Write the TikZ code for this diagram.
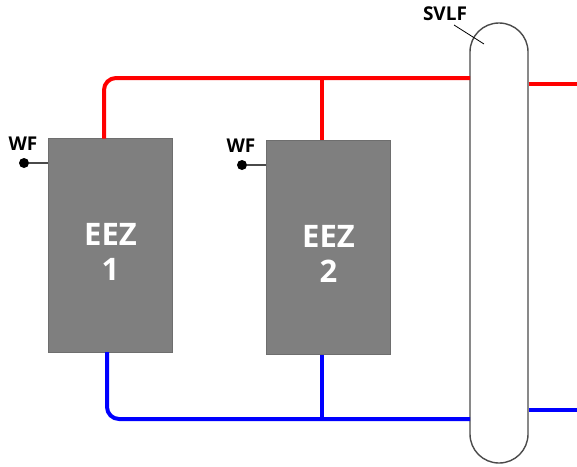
\documentclass[tikz,border=0pt]{standalone}
\usepackage{fontspec}
\setmainfont{Open Sans}
\usetikzlibrary{positioning}
\definecolor{eezgray}{HTML}{7F7F7F}
\definecolor{eezborder}{HTML}{6E6E6E}
\definecolor{pipegray}{HTML}{4A4A4A}
\definecolor{hotred}{HTML}{FF0000}
\definecolor{coldblue}{HTML}{0000FF}
\begin{document}
\begin{tikzpicture}[
      x=1pt, y=-1pt,
      eezbox/.style={draw=eezborder, line width=1pt, fill=eezgray, minimum width=124pt,
        minimum height=214pt, inner sep=0pt},
      eeztext/.style={align=center, text=white, inner sep=0pt,
        font=\fontsize{31}{35}\selectfont\bfseries},
      vessel/.style={draw=pipegray, line width=1.4pt, fill=white, minimum width=58pt,
        minimum height=440pt, inner sep=0pt, rounded corners=28.9pt},
      wfdot/.style={circle, fill=black, inner sep=0pt, minimum size=10pt},
      wftext/.style={font=\fontsize{19}{21}\selectfont\bfseries, inner sep=0pt},
      hotline/.style={draw=hotred, line width=4pt},
      coldline/.style={draw=coldblue, line width=4pt},
      wfline/.style={draw=pipegray, line width=1.2pt}
    ]
      \useasboundingbox (0,0) rectangle (577,466);
      \node[eezbox] (eez1) at (110.5,245) {};
      \node[eezbox, right=93pt of eez1, yshift=-2pt] (eez2) {};
      \node[eeztext, yshift=-7pt] (eez1text) at (eez1) {EEZ\\1};
      \node[eeztext, yshift=-7pt] (eez2text) at (eez2) {EEZ\\2};
      \node[vessel] (svlf) at (499,243) {};
      % feed dots
      \node[wfdot] (wf1) at (24,163) {};
      \node[wfdot] (wf2) at (242,165) {};
      \node[wftext] (wf1text) at (23,144) {WF};
      \node[wftext] (wf2text) at (241,146) {WF};
      \node[wftext] (svlftext) at (445,14) {SVLF};
      \draw[wfline] (wf1) -- (wf1 -| eez1.west);
      \draw[wfline] (wf2) -- (wf2 -| eez2.west);
      % pipe ends
      \coordinate (hot1) at (104,138.5);
      \coordinate (hotin) at (470,78);
      \coordinate (hottee) at (322,78);
      \coordinate (hotout) at (577,84);
      \coordinate (cold1) at (107,352);
      \coordinate (coldin) at (470,419);
      \coordinate (coldtee) at (322,419);
      \coordinate (coldout) at (577,410);
      \coordinate (svlftip) at (484,44);
      \draw[hotline, rounded corners=12pt] (hot1) |- (hotin);
      \draw[hotline] (hottee) -- (hottee |- eez2.north);
      \draw[hotline] (hotout -| svlf.east) -- (hotout);
      \draw[coldline, rounded corners=12pt] (cold1) |- (coldin);
      \draw[coldline] (coldtee) -- (coldtee |- eez2.south);
      \draw[coldline] (coldout -| svlf.east) -- (coldout);
      \draw[black, line width=0.8pt] (svlftext) ++(9,11) -- (svlftip);
    \end{tikzpicture}
\end{document}
